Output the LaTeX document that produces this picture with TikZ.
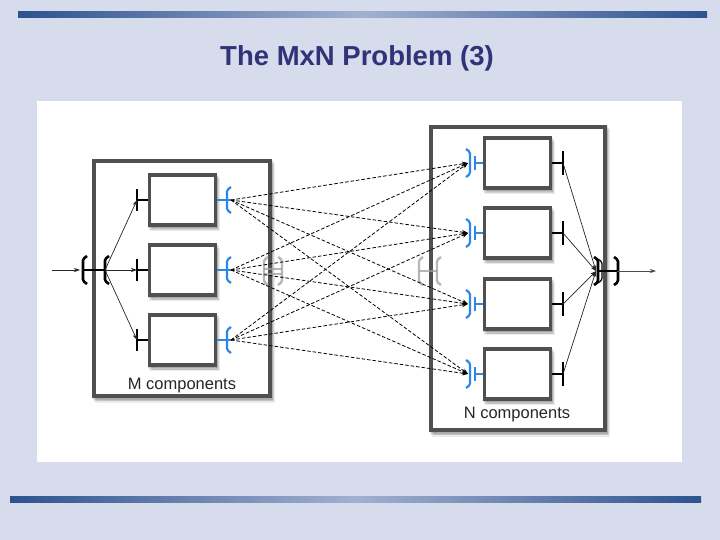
\documentclass[tikz,border=0pt]{standalone}
\usepackage{fontspec}
\setmainfont{Liberation Sans}
\usetikzlibrary{arrows.meta,shadows}
\definecolor{bg}{RGB}{214,220,236}
\definecolor{bardark}{RGB}{45,82,142}
\definecolor{barlight}{RGB}{162,176,208}
\definecolor{titlec}{RGB}{50,50,120}
\definecolor{boxedge}{RGB}{80,80,80}
\definecolor{portblue}{RGB}{45,135,230}
\definecolor{ghostc}{RGB}{160,160,160}
\newcommand\brkL[4]{\draw[#4,rounded corners=1.5pt] ({#1+4},{#2-#3}) -- (#1,{#2-#3+3}) -- (#1,{#2+#3-3}) -- ({#1+4},{#2+#3});}
\newcommand\brkR[4]{\draw[#4,rounded corners=1.5pt] ({#1-4},{#2-#3}) -- (#1,{#2-#3+3}) -- (#1,{#2+#3-3}) -- ({#1-4},{#2+#3});}
\begin{document}
\begin{tikzpicture}[x=1pt,y=-1pt,
  softshadow/.style={
    general shadow={fill=black, draw=black, line width=#1, opacity=0.10, shadow xshift=0.5pt, shadow yshift=-1.5pt},
    general shadow={fill=black, draw=black, line width=#1, opacity=0.10, shadow xshift=1.5pt, shadow yshift=-3pt},
    general shadow={fill=black, draw=black, line width=#1, opacity=0.08, shadow xshift=2.5pt, shadow yshift=-4.5pt}},
  innerbox/.style={draw=boxedge, line width=3.2pt, fill=white, minimum width=66pt, minimum height=50pt, inner sep=0pt,
    softshadow=3.2pt},
  outerbox/.style={draw=boxedge, line width=4pt, fill=white, inner sep=0pt, softshadow=4pt},
  lbl/.style={font=\fontsize{16.5}{20}\selectfont, text=black!85},
  dashline/.style={draw=black, line width=0.8pt, dash pattern=on 3.5pt off 2pt, -{Stealth[length=6pt,width=4.5pt]}},
  fanline/.style={draw=black!85, line width=0.7pt, -{Stealth[length=6pt,width=4pt]}},
  blackbar/.style={draw=black, line width=2.6pt},
  blackstub/.style={draw=black, line width=1.6pt},
  bluebar/.style={draw=portblue, line width=2.2pt},
  bluestub/.style={draw=portblue, line width=1.6pt},
  thickbrk/.style={draw=black, line width=2.6pt},
  ghostbrk/.style={draw=ghostc, line width=2.4pt, opacity=0.75}
]
\useasboundingbox (0,0) rectangle (720,540);
\fill[bg] (0,0) rectangle (720,540);
\shade[left color=bardark, right color=bardark, middle color=barlight] (18,12) rectangle (707,18);
\shade[left color=bardark, right color=bardark, middle color=barlight] (10,496) rectangle (701,502);
\node[font=\fontsize{27.5}{32}\selectfont\bfseries, text=titlec] (title) at (357,58) {The MxN Problem (3)};
\fill[white] (37,101) rectangle (682,462);

% outer boxes
\node[outerbox, minimum width=176pt, minimum height=235pt] (M) at (182,278.5) {};
\node[outerbox, minimum width=174pt, minimum height=303pt] (N) at (518,278.5) {};
\node[lbl] (mlab) at (182,386) {M components};
\node[lbl] (nlab) at (517,415) {N components};

% inner boxes
\node[innerbox] (m1) at (182.5,200) {};
\node[innerbox] (m2) at (182.5,270) {};
\node[innerbox] (m3) at (182.5,340) {};
\node[innerbox] (n1) at (517.5,163) {};
\node[innerbox] (n2) at (517.5,233) {};
\node[innerbox] (n3) at (517.5,304) {};
\node[innerbox] (n4) at (517.5,374) {};

% port coordinates
\foreach \i/\y in {1/200,2/270,3/340}{
  \coordinate (mi\i) at (137,\y);
  \coordinate (mo\i) at (231,\y);
  \draw[blackstub] (mi\i) -- (m\i.west);
  \draw[blackbar] (137,\y-11) -- (137,\y+11);
  \draw[bluestub] (m\i.east) -- (mo\i);
  \brkL{227}{\y}{13}{bluebar}
}
\foreach \i/\y in {1/163,2/233,3/304,4/374}{
  \coordinate (ni\i) at (468,\y);
  \coordinate (no\i) at (563,\y);
  \draw[bluestub] (475,\y) -- (n\i.west);
  \draw[bluebar] (475,\y-7) -- (475,\y+7);
  \brkR{470}{\y}{14}{bluebar}
  \draw[blackstub] (n\i.east) -- (no\i);
  \draw[blackbar] (563,\y-12) -- (563,\y+12);
}

% ghost brackets
\brkL{264}{271}{14}{ghostbrk}
\brkR{282}{271}{14}{ghostbrk}
\draw[ghostc, line width=1.2pt, opacity=0.75] (264,269) -- (282,269) (264,274) -- (282,274);
\brkL{419}{271}{14}{ghostbrk}
\brkL{437}{271}{14}{ghostbrk}
\draw[ghostc, line width=1.2pt, opacity=0.75] (419,271) -- (437,271);

% dashed M x N connectors
\foreach \i in {1,2,3}{
  \foreach \j in {1,2,3,4}{
    \draw[dashline] (mo\i) -- (ni\j);
  }
}

% input
\coordinate (in0) at (52,270);
\coordinate (inb1) at (83,270);
\coordinate (inb2) at (105,270);
\draw[fanline] (in0) -- (80,270);
\brkL{83}{270}{14}{thickbrk}
\brkL{105}{270}{14}{thickbrk}
\draw[line width=2pt] (inb1) -- (inb2);
\foreach \i in {1,2,3}{
  \draw[fanline] (inb2) -- (mi\i);
}

% output
\coordinate (outb1) at (599,271);
\coordinate (outb2) at (617,271);
\coordinate (out0) at (656,271);
\brkR{598}{271}{14}{thickbrk}
\brkR{602}{271}{12}{draw=black,line width=1.2pt}
\brkR{618}{271}{14}{thickbrk}
\draw[line width=2pt] (outb1) -- (outb2);
\draw[fanline, draw=black!70] (outb2) -- (out0);
\foreach \i in {1,2,3,4}{
  \draw[fanline] (no\i) -- (596,271);
}
\end{tikzpicture}
\end{document}
